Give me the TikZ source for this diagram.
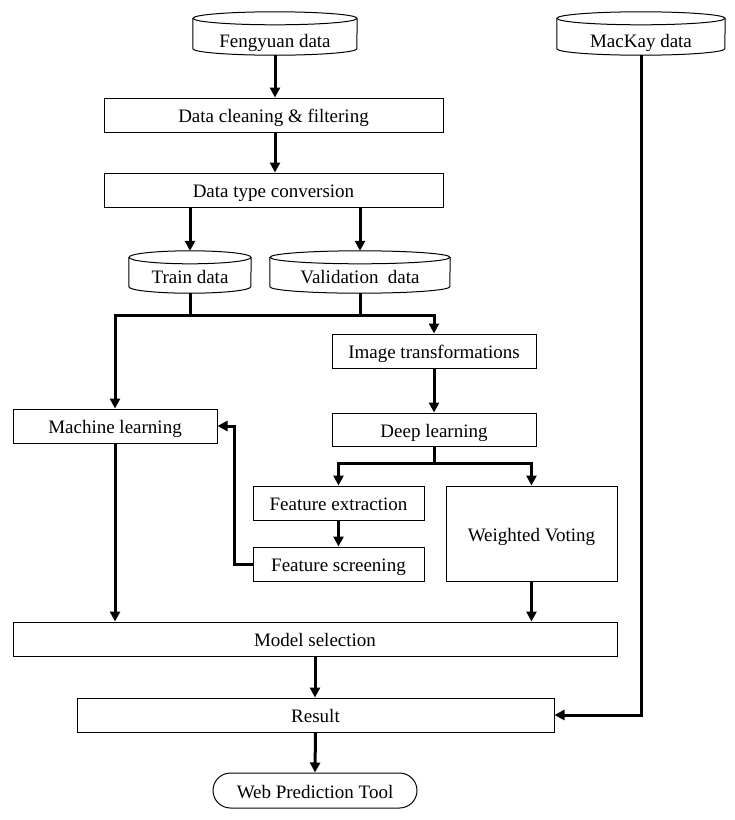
\documentclass[tikz,border=0pt]{standalone}
\usepackage{fontspec}
\setmainfont{Liberation Serif}
\usetikzlibrary{arrows.meta}
\tikzset{
  lbl/.style={font=\fontsize{19}{22}\selectfont},
  box/.style={lbl, draw, line width=1pt, rectangle, inner sep=0pt, text height=19pt, text depth=4pt},
  dbtext/.style={lbl, rectangle, inner sep=0pt, text depth=4pt},
  webbox/.style={box, rounded corners=17.5pt},
  arr/.style={line width=3pt, -{Triangle[length=10pt,width=10pt]}},
  thk/.style={line width=3pt},
  frameline/.style={line width=1pt}
}
\newcommand\dbframe[2]{%
  \draw[frameline] ([yshift=-6.5pt]#1.north) ellipse[x radius=#2pt, y radius=6.5pt];
  \draw[frameline] ([yshift=-6.5pt]#1.north west) -- ([yshift=6.5pt]#1.south west)
    arc[start angle=180, end angle=360, x radius=#2pt, y radius=6.5pt]
    -- ([yshift=-6.5pt]#1.north east);
}
\begin{document}
\begin{tikzpicture}[x=1pt,y=-1pt]
\useasboundingbox (0,0) rectangle (735,820);
% data sources
\node[dbtext, minimum width=164pt, minimum height=43pt, text height=31pt] (fy) at (275,33.5) {Fengyuan data};
\dbframe{fy}{82}
\node[dbtext, minimum width=168pt, minimum height=43pt, text height=31pt] (mk) at (641,33.5) {MacKay data};
\dbframe{mk}{84}
% processing boxes
\node[box, minimum width=339pt, minimum height=34pt] (clean) at (273.5,115) {Data cleaning \& filtering};
\node[box, minimum width=339pt, minimum height=34pt] (conv) at (273.5,190) {Data type conversion};
\node[dbtext, minimum width=122pt, minimum height=42pt, text height=26pt] (train) at (190,272) {Train data};
\dbframe{train}{61}
\node[dbtext, minimum width=180pt, minimum height=42pt, text height=26pt] (valid) at (360,272) {Validation\ \ data};
\dbframe{valid}{90}
\node[box, minimum width=204pt, minimum height=34pt] (imgt) at (434,351) {Image transformations};
\node[box, minimum width=204pt, minimum height=34pt] (ml) at (115,426) {Machine learning};
\node[box, minimum width=204pt, minimum height=33pt] (dl) at (434,429.5) {Deep learning};
\node[box, minimum width=171pt, minimum height=34pt] (fe) at (338.5,503) {Feature extraction};
\node[box, minimum width=171pt, minimum height=34pt] (fs) at (338.5,564) {Feature screening};
\node[box, minimum width=171pt, minimum height=95pt] (wv) at (531.5,533.5) {Weighted Voting};
\node[box, minimum width=604pt, minimum height=34pt] (ms) at (315,639) {Model selection};
\node[box, minimum width=477pt, minimum height=34pt] (res) at (315.5,715) {Result};
\node[webbox, minimum width=204pt, minimum height=35pt] (web) at (315,790.5) {Web Prediction Tool};
% connectors
\coordinate (bus1) at (0,315);
\coordinate (bus2) at (0,463);
\draw[arr] (fy.south) -- (fy.south |- clean.north);
\draw[arr] (fy.south |- clean.south) -- (fy.south |- conv.north);
\draw[arr] (train.north |- conv.south) -- (train.north);
\draw[arr] (valid.north |- conv.south) -- (valid.north);
\draw[thk] (train.south |- bus1) -- (valid.south |- bus1);
\draw[arr] (train.south) -- (train.south |- bus1) -| (ml.north);
\draw[arr] (valid.south) -- (valid.south |- bus1) -| (imgt.north);
\draw[arr] (imgt.south) -- (dl.north);
\draw[arr] (dl.south) -- (dl.south |- bus2) -| (fe.north);
\draw[arr] (dl.south |- bus2) -| (wv.north);
\draw[arr] (fe.south) -- (fs.north);
\draw[arr] (fs.west) -- ++(-18,0) |- (ml.east);
\draw[arr] (ml.south) -- (ml.south |- ms.north);
\draw[arr] (wv.south) -- (wv.south |- ms.north);
\draw[arr] (ms.south) -- (ms.south |- res.north);
\draw[arr] (mk.south) |- (res.east);
\draw[arr] (res.south) -- (web.north);
\end{tikzpicture}
\end{document}
